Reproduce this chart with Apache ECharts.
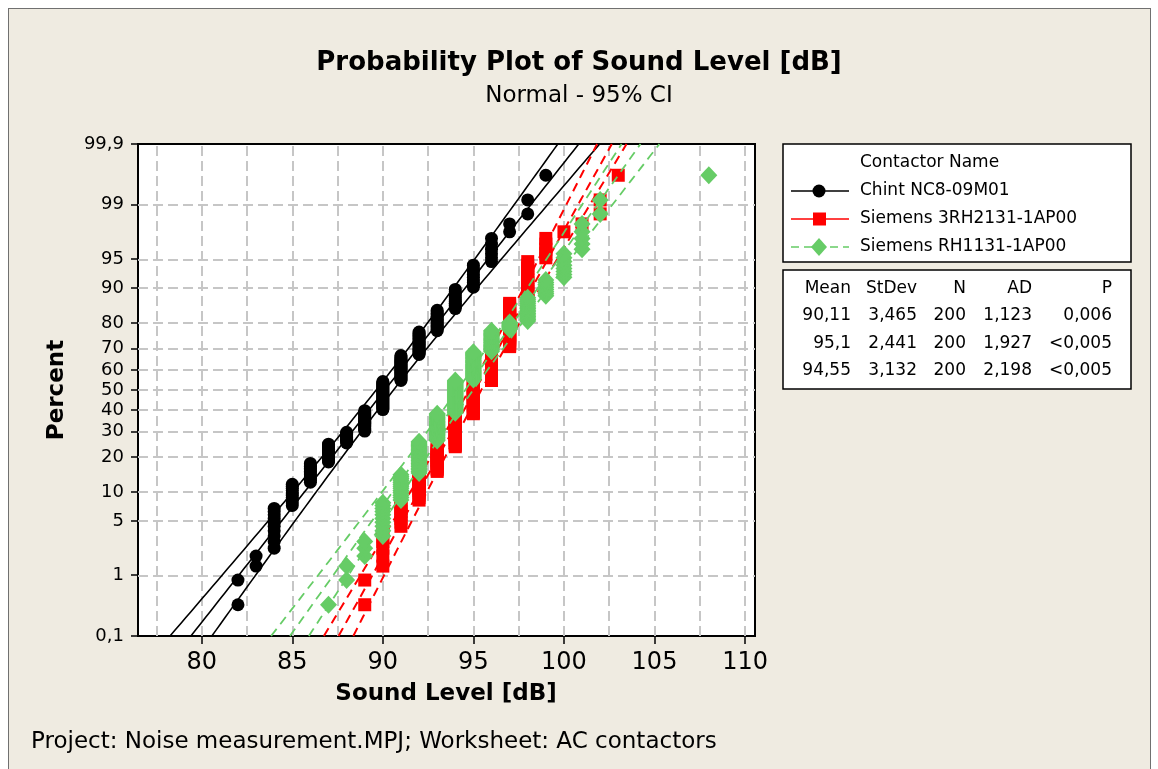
<!DOCTYPE html>
<html><head><meta charset="utf-8">
<script src="https://cdn.jsdelivr.net/npm/echarts@6/dist/echarts.min.js"></script>
<style>
html,body{margin:0;padding:0;background:#fff;overflow:hidden;}
#frame{position:absolute;left:8px;top:8px;width:1141px;height:800px;border:1px solid #707070;background:#efebe1;}
#chart{position:absolute;left:0;top:0;width:1158px;height:769px;}
</style></head><body>
<div id="frame"></div><div id="chart"></div>
<script>
// ---------- data ----------
const groupNames = ['Chint NC8-09M01', 'Siemens 3RH2131-1AP00', 'Siemens RH1131-1AP00'];
// integer sound levels and number of observations at each level
const chintLevels = [82,83,84,85,86,87,88,89,90,91,92,93,94,95,96,97,98,99];
const chintCounts = [2,2,10,10,12,14,10,20,29,25,20,15,11,9,6,2,2,1];
const siem3Levels = [89,90,91,92,93,94,95,96,97,98,99,100,101,102,103];
const siem3Counts = [2,6,8,14,17,29,33,32,32,17,5,1,1,2,1];
const siemRLevels = [87,88,89,90,91,92,93,94,95,96,97,98,99,100,101,102,108];
const siemRCounts = [1,2,3,10,13,23,25,33,27,18,6,15,8,8,5,2,1];
// summary table
const statMean = [90.11, 95.1, 94.55];
const statStDev = [3.465, 2.441, 3.132];
const statN = [200, 200, 200];
const statAD = ['1,123', '1,927', '2,198'];
const statP = ['0,006', '<0,005', '<0,005'];
const meanText = ['90,11', '95,1', '94,55'];
const sdText = ['3,465', '2,441', '3,132'];
// axis ticks
const yTickPercents = [0.1, 1, 5, 10, 20, 30, 40, 50, 60, 70, 80, 90, 95, 99, 99.9];
const yTickLabels = ['0,1','1','5','10','20','30','40','50','60','70','80','90','95','99','99,9'];
const xTickValues = [80, 85, 90, 95, 100, 105, 110];
const xGridValues = [77.5, 80, 82.5, 85, 87.5, 90, 92.5, 95, 97.5, 100, 102.5, 105, 107.5, 110];

const colors = ['#000000', '#ff0000', '#66cc66'];
const FONT = "'DejaVu Sans', sans-serif";

// ---------- normal probability scale ----------
function norminv(p){
  const a=[-3.969683028665376e+01,2.209460984245205e+02,-2.759285104469687e+02,1.383577518672690e+02,-3.066479806614716e+01,2.506628277459239e+00];
  const b=[-5.447609879822406e+01,1.615858368580409e+02,-1.556989798598866e+02,6.680131188771972e+01,-1.328068155288572e+01];
  const c=[-7.784894002430293e-03,-3.223964580411365e-01,-2.400758277161838e+00,-2.549732539343734e+00,4.374664141464968e+00,2.938163982698783e+00];
  const d=[7.784695709041462e-03,3.224671290700398e-01,2.445134137142996e+00,3.754408661907416e+00];
  const pl=0.02425, ph=1-pl; let q,r;
  if(p<pl){q=Math.sqrt(-2*Math.log(p));return (((((c[0]*q+c[1])*q+c[2])*q+c[3])*q+c[4])*q+c[5])/((((d[0]*q+d[1])*q+d[2])*q+d[3])*q+1);}
  if(p<=ph){q=p-0.5;r=q*q;return (((((a[0]*r+a[1])*r+a[2])*r+a[3])*r+a[4])*r+a[5])*q/(((((b[0]*r+b[1])*r+b[2])*r+b[3])*r+b[4])*r+1);}
  q=Math.sqrt(-2*Math.log(1-p));return -(((((c[0]*q+c[1])*q+c[2])*q+c[3])*q+c[4])*q+c[5])/((((d[0]*q+d[1])*q+d[2])*q+d[3])*q+1);
}
const yTickZ = yTickPercents.map(p => norminv(p/100));
const zMin = yTickZ[0], zMax = yTickZ[yTickZ.length-1];

// plotting positions (median ranks) for each observation
function probPoints(levels, counts){
  const n = counts.reduce((s,v)=>s+v,0); const pts=[]; let i=0;
  levels.forEach((lv,k)=>{ for(let j=0;j<counts[k];j++){ i++; pts.push([lv, norminv((i-0.3)/(n+0.4))]); } });
  return pts;
}
// fitted normal line and 95% CI from the estimated mean / stdev
function fitLines(mu, sd, n){
  const c=[],lo=[],hi=[]; const steps=80;
  for(let k=0;k<=steps;k++){
    const z = zMin + (zMax-zMin)*k/steps;
    const x = mu + z*sd; const h = 1.959964*sd*Math.sqrt(1/n + z*z/(2*n));
    c.push([x,z]); lo.push([x-h,z]); hi.push([x+h,z]);
  }
  return [c,lo,hi];
}

const groups = [
  {levels: chintLevels, counts: chintCounts, symbol:'circle', dash:'solid', lw:1.6},
  {levels: siem3Levels, counts: siem3Counts, symbol:'rect', dash:[9,6], lw:2},
  {levels: siemRLevels, counts: siemRCounts, symbol:'diamond', dash:[9,6], lw:1.8}
];

function markerRenderer(kind, color){
  return function(params, api){
    const p = api.coord([api.value(0), api.value(1)]);
    const x = p[0], y = p[1];
    if(kind==='circle') return {type:'circle', shape:{cx:x, cy:y, r:6.5}, style:{fill:color, stroke:null}};
    if(kind==='rect') return {type:'rect', shape:{x:x-6.5, y:y-6.5, width:13, height:13}, style:{fill:color, stroke:null}};
    return {type:'polygon', shape:{points:[[x,y-9],[x+8.5,y],[x,y+9],[x-8.5,y]]}, style:{fill:color, stroke:null}};
  };
}

const series = [];
// grid lines (kept beneath every mark)
series.push({
  type:'scatter', data:[[90,0]], symbolSize:0, silent:true, z:1,
  markLine:{silent:true, z:1, symbol:['none','none'], label:{show:false}, animation:false,
    lineStyle:{type:[10,5], color:'#c6c6c6', width:2},
    data: xGridValues.map(v=>({xAxis:v})).concat(yTickZ.slice(1,-1).map(v=>({yAxis:v})))}
});
groups.forEach((g,gi)=>{
  series.push({
    name: groupNames[gi], type:'custom', data: probPoints(g.levels, g.counts),
    encode:{x:0, y:1}, renderItem: markerRenderer(g.symbol, colors[gi]),
    silent:true, z: 3+gi*2, animation:false
  });
  const ls = fitLines(statMean[gi], statStDev[gi], statN[gi]);
  ls.forEach(d=>{
    series.push({type:'line', data:d, showSymbol:false, symbol:'none', clip:true, z:4+gi*2,
      lineStyle:{color: colors[gi], width:g.lw, type: g.dash}, animation:false, silent:true});
  });
});

// ---------- legend & table graphics ----------
const graphics = [];
const T = (text, x, y, size, opt={}) => ({type:'text', x:x, y:y, silent:true, rotation: opt.rot||0,
  style:{text:text, x:0, y:0, fill:'#000', font:(opt.bold?'bold ':'')+size+'px '+FONT,
    textAlign: opt.align||'left', textVerticalAlign:'middle'}});
graphics.push(T('Probability Plot of Sound Level [dB]', 579, 63, 26, {bold:true, align:'center'}));
graphics.push(T('Normal - 95% CI', 579, 96, 23, {align:'center'}));
graphics.push(T('Sound Level [dB]', 446, 694, 23, {bold:true, align:'center'}));
graphics.push(T('Percent', 57, 390, 23, {bold:true, align:'center', rot:Math.PI/2}));
graphics.push(T('Project: Noise measurement.MPJ; Worksheet: AC contactors', 31, 742, 23, {}));
// legend box
graphics.push({type:'rect', shape:{x:783, y:144, width:348, height:118}, style:{fill:'#fff', stroke:'#000', lineWidth:1.5}, silent:true});
graphics.push(T('Contactor Name', 860, 163, 17));
const rowY = [191, 219, 247];
groups.forEach((g,gi)=>{
  const y = rowY[gi];
  graphics.push({type:'line', shape:{x1:791, y1:y, x2:849, y2:y}, silent:true,
    style:{stroke:colors[gi], lineWidth:1.5, lineDash: gi===2?[8,5]:null}});
  if(g.symbol==='circle') graphics.push({type:'circle', shape:{cx:819, cy:y, r:6.5}, style:{fill:colors[gi]}, silent:true});
  else if(g.symbol==='rect') graphics.push({type:'rect', shape:{x:813, y:y-6.5, width:13, height:13}, style:{fill:colors[gi]}, silent:true});
  else graphics.push({type:'polygon', shape:{points:[[819,y-9],[827,y],[819,y+9],[811,y]]}, style:{fill:colors[gi]}, silent:true});
  graphics.push(T(groupNames[gi], 860, y, 17));
});
// table box
graphics.push({type:'rect', shape:{x:783, y:270, width:348, height:119}, style:{fill:'#fff', stroke:'#000', lineWidth:1.5}, silent:true});
const colX = [851, 917, 966, 1032, 1112];
['Mean','StDev','N','AD','P'].forEach((h,k)=>graphics.push(T(h, colX[k], 289, 17, {align:'right'})));
const tabY = [316, 344, 371];
for(let r=0;r<3;r++){
  const vals = [meanText[r], sdText[r], String(statN[r]), statAD[r], statP[r]];
  vals.forEach((v,k)=>graphics.push(T(v, colX[k], tabY[r], 17, {align:'right'})));
}

const chart = echarts.init(document.getElementById('chart'), null, {renderer:'canvas'});
chart.setOption({
  backgroundColor:'transparent',
  animation:false,
  textStyle:{fontFamily:FONT},
  grid:{left:138, top:144, width:617, height:492, show:true, backgroundColor:'#fff', borderColor:'#000', borderWidth:2, containLabel:false},
  xAxis:{type:'value', min:76.48, max:110.55,
    axisLine:{show:true, onZero:false, lineStyle:{color:'#000', width:2}},
    axisTick:{show:true, customValues:xTickValues, length:8, lineStyle:{color:'#000', width:1.5}},
    axisLabel:{customValues:xTickValues, fontSize:24, color:'#000', margin:15, fontFamily:FONT},
    splitLine:{show:false}},
  yAxis:{type:'value', min:zMin, max:zMax,
    axisLine:{show:true, onZero:false, lineStyle:{color:'#000', width:2}},
    axisTick:{show:true, customValues:yTickZ, length:7, lineStyle:{color:'#000', width:1.5}},
    axisLabel:{customValues:yTickZ, fontSize:18, color:'#000', margin:14, fontFamily:FONT,
      formatter:(v)=>{let best=0,bd=1e9; yTickZ.forEach((z,k)=>{const d=Math.abs(z-v); if(d<bd){bd=d;best=k;}}); return yTickLabels[best];}},
    splitLine:{show:false}},
  series: series,
  graphic: graphics
});
</script></body></html>
